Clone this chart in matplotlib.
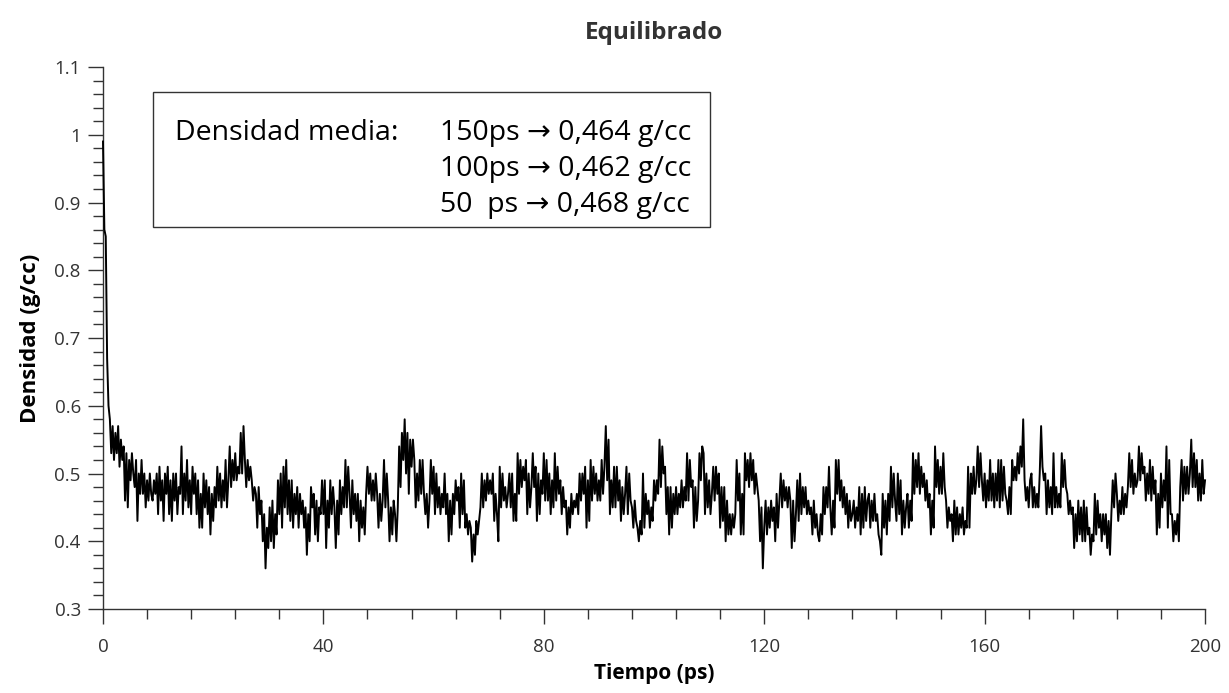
import numpy as np
import matplotlib
matplotlib.use("Agg")
import matplotlib.pyplot as plt
from matplotlib.patches import Rectangle
from matplotlib.ticker import MultipleLocator, FuncFormatter

plt.rcParams['font.family'] = ['Open Sans', 'DejaVu Sans']

# Simulation time step (ps) and density trace (g/cc)
dt = 0.25
density = [
    0.99, 0.86, 0.85, 0.67,  0.60, 0.58, 0.53, 0.57,  0.52, 0.56, 0.53, 0.57,  0.51, 0.55, 0.52, 0.54,
    0.46, 0.53, 0.45, 0.52,  0.49, 0.53, 0.50, 0.48,  0.52, 0.43, 0.50, 0.47,  0.52, 0.47, 0.50, 0.45,
    0.49, 0.46, 0.50, 0.47,  0.46, 0.49, 0.47, 0.50,  0.44, 0.51, 0.46, 0.49,  0.43, 0.50, 0.47, 0.51,
    0.44, 0.49, 0.43, 0.50,  0.46, 0.50, 0.44, 0.48,  0.47, 0.54, 0.44, 0.50,  0.46, 0.52, 0.45, 0.49,
    0.44, 0.51, 0.47, 0.50,  0.44, 0.49, 0.42, 0.47,  0.42, 0.50, 0.45, 0.49,  0.44, 0.48, 0.41, 0.47,
    0.43, 0.48, 0.45, 0.51,  0.46, 0.50, 0.45, 0.49,  0.46, 0.52, 0.45, 0.49,  0.54, 0.48, 0.52, 0.49,
    0.53, 0.49, 0.51, 0.50,  0.56, 0.50, 0.57, 0.52,  0.48, 0.52, 0.49, 0.51,  0.49, 0.46, 0.48, 0.47,
    0.42, 0.48, 0.44, 0.46,  0.40, 0.44, 0.36, 0.42,  0.39, 0.45, 0.40, 0.46,  0.39, 0.44, 0.41, 0.49,
    0.44, 0.50, 0.42, 0.51,  0.45, 0.52, 0.44, 0.49,  0.43, 0.49, 0.42, 0.47,  0.44, 0.48, 0.42, 0.47,
    0.44, 0.46, 0.42, 0.45,  0.38, 0.44, 0.40, 0.48,  0.45, 0.47, 0.41, 0.46,  0.40, 0.45, 0.44, 0.49,
    0.44, 0.49, 0.39, 0.46,  0.42, 0.49, 0.44, 0.48,  0.45, 0.39, 0.46, 0.41,  0.49, 0.44, 0.48, 0.45,
    0.52, 0.45, 0.51, 0.47,  0.42, 0.49, 0.44, 0.47,  0.43, 0.47, 0.40, 0.46,  0.42, 0.45, 0.41, 0.47,
    0.51, 0.47, 0.50, 0.46,  0.49, 0.46, 0.50, 0.47,  0.42, 0.47, 0.43, 0.46,  0.52, 0.45, 0.50, 0.46,
    0.40, 0.45, 0.41, 0.46,  0.44, 0.40, 0.45, 0.54,  0.48, 0.56, 0.52, 0.58,  0.50, 0.56, 0.47, 0.55,
    0.51, 0.55, 0.52, 0.45,  0.50, 0.46, 0.52, 0.47,  0.52, 0.47, 0.44, 0.47,  0.42, 0.46, 0.52, 0.47,
    0.51, 0.44, 0.50, 0.45,  0.48, 0.44, 0.47, 0.45,  0.50, 0.44, 0.47, 0.40,  0.46, 0.41, 0.47, 0.44,
    0.49, 0.46, 0.48, 0.42,  0.50, 0.44, 0.49, 0.42,  0.44, 0.41, 0.43, 0.42,  0.37, 0.41, 0.38, 0.43,
    0.41, 0.43, 0.45, 0.50,  0.45, 0.49, 0.46, 0.50,  0.47, 0.49, 0.47, 0.50,  0.43, 0.47, 0.44, 0.40,
    0.51, 0.45, 0.50, 0.46,  0.48, 0.45, 0.47, 0.50,  0.45, 0.50, 0.43, 0.47,  0.43, 0.53, 0.47, 0.52,
    0.48, 0.51, 0.49, 0.52,  0.44, 0.50, 0.45, 0.48,  0.53, 0.48, 0.51, 0.43,  0.50, 0.44, 0.49, 0.47,
    0.53, 0.46, 0.52, 0.46,  0.50, 0.44, 0.49, 0.45,  0.53, 0.46, 0.51, 0.47,  0.49, 0.44, 0.48, 0.45,
    0.46, 0.41, 0.45, 0.42,  0.47, 0.44, 0.46, 0.45,  0.47, 0.44, 0.50, 0.46,  0.50, 0.47, 0.51, 0.42,
    0.49, 0.43, 0.52, 0.46,  0.51, 0.47, 0.50, 0.46,  0.49, 0.46, 0.52, 0.47,  0.51, 0.57, 0.49, 0.55,
    0.44, 0.49, 0.45, 0.51,  0.45, 0.51, 0.46, 0.49,  0.43, 0.48, 0.44, 0.47,  0.51, 0.44, 0.50, 0.46,
    0.45, 0.42, 0.46, 0.43,  0.42, 0.40, 0.43, 0.41,  0.50, 0.42, 0.47, 0.44,  0.46, 0.42, 0.45, 0.43,
    0.49, 0.46, 0.49, 0.47,  0.55, 0.48, 0.54, 0.50,  0.51, 0.44, 0.48, 0.41,  0.48, 0.42, 0.47, 0.44,
    0.48, 0.44, 0.47, 0.45,  0.49, 0.45, 0.48, 0.46,  0.53, 0.46, 0.52, 0.48,  0.49, 0.42, 0.48, 0.43,
    0.46, 0.53, 0.49, 0.54,  0.53, 0.44, 0.50, 0.45,  0.49, 0.44, 0.47, 0.51,  0.46, 0.51, 0.47, 0.50,
    0.42, 0.48, 0.43, 0.48,  0.40, 0.46, 0.41, 0.44,  0.41, 0.44, 0.42, 0.44,  0.52, 0.46, 0.50, 0.41,
    0.47, 0.41, 0.53, 0.49,  0.52, 0.48, 0.53, 0.49,  0.52, 0.47, 0.50, 0.48,  0.46, 0.40, 0.45, 0.36,
    0.42, 0.46, 0.41, 0.45,  0.42, 0.46, 0.43, 0.45,  0.40, 0.47, 0.42, 0.46,  0.50, 0.45, 0.49, 0.46,
    0.48, 0.45, 0.48, 0.46,  0.39, 0.46, 0.40, 0.44,  0.49, 0.43, 0.50, 0.44,  0.48, 0.45, 0.48, 0.44,
    0.46, 0.44, 0.45, 0.41,  0.46, 0.42, 0.44, 0.41,  0.40, 0.44, 0.41, 0.48,  0.44, 0.48, 0.45, 0.51,
    0.45, 0.41, 0.46, 0.42,  0.52, 0.47, 0.52, 0.46,  0.49, 0.45, 0.48, 0.44,  0.47, 0.42, 0.46, 0.43,
    0.44, 0.46, 0.42, 0.45,  0.43, 0.48, 0.41, 0.47,  0.42, 0.48, 0.43, 0.46,  0.47, 0.42, 0.46, 0.43,
    0.47, 0.43, 0.44, 0.41,  0.40, 0.38, 0.47, 0.42,  0.46, 0.41, 0.47, 0.43,  0.51, 0.45, 0.50, 0.46,
    0.43, 0.50, 0.44, 0.49,  0.41, 0.46, 0.42, 0.45,  0.47, 0.42, 0.46, 0.43,  0.53, 0.47, 0.52, 0.48,
    0.53, 0.47, 0.51, 0.48,  0.50, 0.46, 0.49, 0.45,  0.47, 0.41, 0.46, 0.42,  0.54, 0.48, 0.52, 0.47,
    0.51, 0.47, 0.53, 0.48,  0.46, 0.42, 0.45, 0.43,  0.44, 0.40, 0.46, 0.41,  0.45, 0.41, 0.44, 0.42,
    0.45, 0.41, 0.43, 0.42,  0.51, 0.42, 0.50, 0.47,  0.51, 0.47, 0.49, 0.54,  0.48, 0.53, 0.49, 0.46,
    0.50, 0.45, 0.49, 0.46,  0.52, 0.46, 0.50, 0.45,  0.50, 0.46, 0.52, 0.45,  0.52, 0.46, 0.51, 0.47,
    0.46, 0.44, 0.48, 0.44,  0.52, 0.49, 0.51, 0.49,  0.53, 0.50, 0.54, 0.51,  0.58, 0.49, 0.46, 0.48,
    0.45, 0.49, 0.50, 0.45,  0.48, 0.45, 0.47, 0.45,  0.50, 0.57, 0.51, 0.49,  0.50, 0.44, 0.49, 0.45,
    0.48, 0.44, 0.53, 0.45,  0.48, 0.45, 0.47, 0.45,  0.53, 0.48, 0.52, 0.48,  0.47, 0.44, 0.46, 0.44,
    0.45, 0.39, 0.44, 0.40,  0.46, 0.41, 0.45, 0.40,  0.46, 0.40, 0.45, 0.41,  0.42, 0.38, 0.41, 0.40,
    0.47, 0.41, 0.46, 0.42,  0.44, 0.40, 0.44, 0.41,  0.44, 0.39, 0.43, 0.38,  0.44, 0.49, 0.45, 0.50,
    0.47, 0.43, 0.46, 0.44,  0.48, 0.44, 0.47, 0.45,  0.48, 0.53, 0.48, 0.52,  0.47, 0.50, 0.48, 0.49,
    0.54, 0.49, 0.53, 0.50,  0.51, 0.46, 0.50, 0.47,  0.52, 0.46, 0.51, 0.47,  0.49, 0.41, 0.47, 0.42,
    0.50, 0.45, 0.49, 0.46,  0.54, 0.42, 0.52, 0.44,  0.44, 0.40, 0.43, 0.41,  0.44, 0.40, 0.48, 0.52,
    0.46, 0.51, 0.47, 0.51,  0.47, 0.50, 0.55, 0.48,  0.53, 0.48, 0.52, 0.46,  0.50, 0.46, 0.52, 0.47,
    0.49,
]
time = np.arange(len(density)) * dt

title = "Equilibrado"
xlabel = "Tiempo (ps)"
ylabel = "Densidad (g/cc)"
box_head = "Densidad media:"
box_lines = ["150ps \u2192 0,464 g/cc", "100ps \u2192 0,462 g/cc", "50  ps \u2192 0,468 g/cc"]

fig = plt.figure(figsize=(12.29, 6.93), dpi=100)
ax = fig.add_axes([0.0838, 0.1212, 0.8967, 0.7821])

ax.plot(time, density, color="black", linewidth=1.4, zorder=4, clip_on=False)

ax.set_xlim(0, 200)
ax.set_ylim(0.3, 1.1)
ax.xaxis.set_major_locator(MultipleLocator(40))
ax.xaxis.set_minor_locator(MultipleLocator(8))
ax.yaxis.set_major_locator(MultipleLocator(0.1))
ax.yaxis.set_minor_locator(MultipleLocator(0.02))
ax.xaxis.set_major_formatter(FuncFormatter(lambda v, p: f"{v:g}"))
ax.yaxis.set_major_formatter(FuncFormatter(lambda v, p: f"{v:g}"))

for side in ("top", "right"):
    ax.spines[side].set_visible(False)
for side in ("left", "bottom"):
    ax.spines[side].set_color("#333333")
    ax.spines[side].set_linewidth(1.0)

ax.tick_params(axis="both", which="major", direction="out", length=11, width=1.0,
               color="#333333", labelsize=13.5, labelcolor="#333333", pad=5)
ax.tick_params(axis="x", which="major", pad=10)
ax.tick_params(axis="both", which="minor", direction="out", length=7, width=1.0, color="#333333")

ax.set_title(title, fontsize=17.5, fontweight="bold", color="#333333", pad=20)
ax.set_xlabel(xlabel, fontsize=15, fontweight="bold", color="black", labelpad=5)
ax.set_ylabel(ylabel, fontsize=16, fontweight="bold", color="black", labelpad=10)

# annotation box with the mean densities
ax.add_patch(Rectangle((0.0454, 0.7055), 0.5055, 0.2490, transform=ax.transAxes,
                       fill=False, edgecolor="#333333", linewidth=1.0, zorder=3))
ax.text(0.065, 0.878, box_head, transform=ax.transAxes, fontsize=20.5, va="center", ha="left")
for i, line in enumerate(box_lines):
    ax.text(0.306, 0.878 - i * 0.066, line, transform=ax.transAxes, fontsize=20.5,
            va="center", ha="left")

fig.savefig("out.png", dpi=100)
